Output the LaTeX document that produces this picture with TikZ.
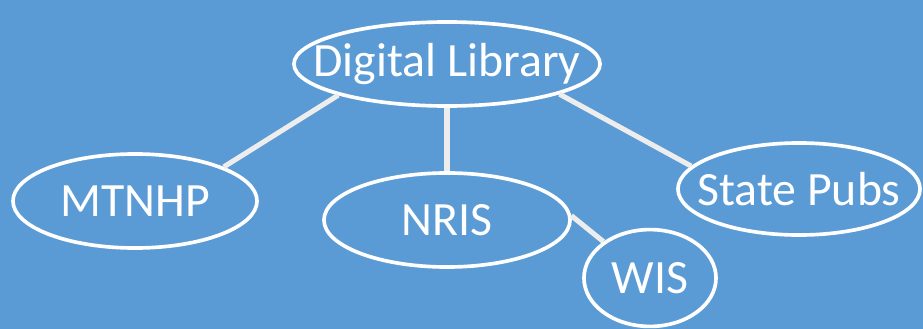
\documentclass[tikz,border=0pt]{standalone}
\usepackage{fontspec}
\setmainfont{Carlito}
\usetikzlibrary{shapes.geometric}

\definecolor{slideblue}{RGB}{91,155,213}
\definecolor{linkgray}{RGB}{237,237,237}
% zero-width label so that the ellipse size comes from minimum width/height
\newcommand{\bubbletext}[1]{\makebox[0pt]{#1}}

\begin{document}
\begin{tikzpicture}[x=0.025cm, y=-0.025cm,
  bubble/.style={ellipse, draw=white, line width=2.6pt, text=white, inner sep=0pt,
    font=\fontsize{34}{40}\selectfont},
  link/.style={linkgray, line width=3.6pt}]
\fill[slideblue] (0,0) rectangle (923,329);
\useasboundingbox (0,0) rectangle (923,329);
\node[bubble, minimum width=7.65cm, minimum height=2.1cm] (dl) at (447,64) {\bubbletext{Digital Library}};
\node[bubble, minimum width=6.1cm, minimum height=2.35cm] (mt) at (135,201) {\bubbletext{MTNHP}};
\node[bubble, minimum width=6.15cm, minimum height=2.35cm] (nr) at (447,220) {\bubbletext{NRIS}};
\node[bubble, minimum width=3.3cm, minimum height=2.42cm] (wi) at (650,278) {\bubbletext{WIS}};
\node[bubble, minimum width=6.05cm, minimum height=2.3cm] (sp) at (799,189) {\bubbletext{State Pubs}};
% connectors
\draw[link] (dl.196) -- (mt.21);
\draw[link] (dl) -- (nr);
\draw[link] (dl.-15) -- (sp.168);
\draw[link] (nr.2) -- (wi.142);
\end{tikzpicture}
\end{document}
